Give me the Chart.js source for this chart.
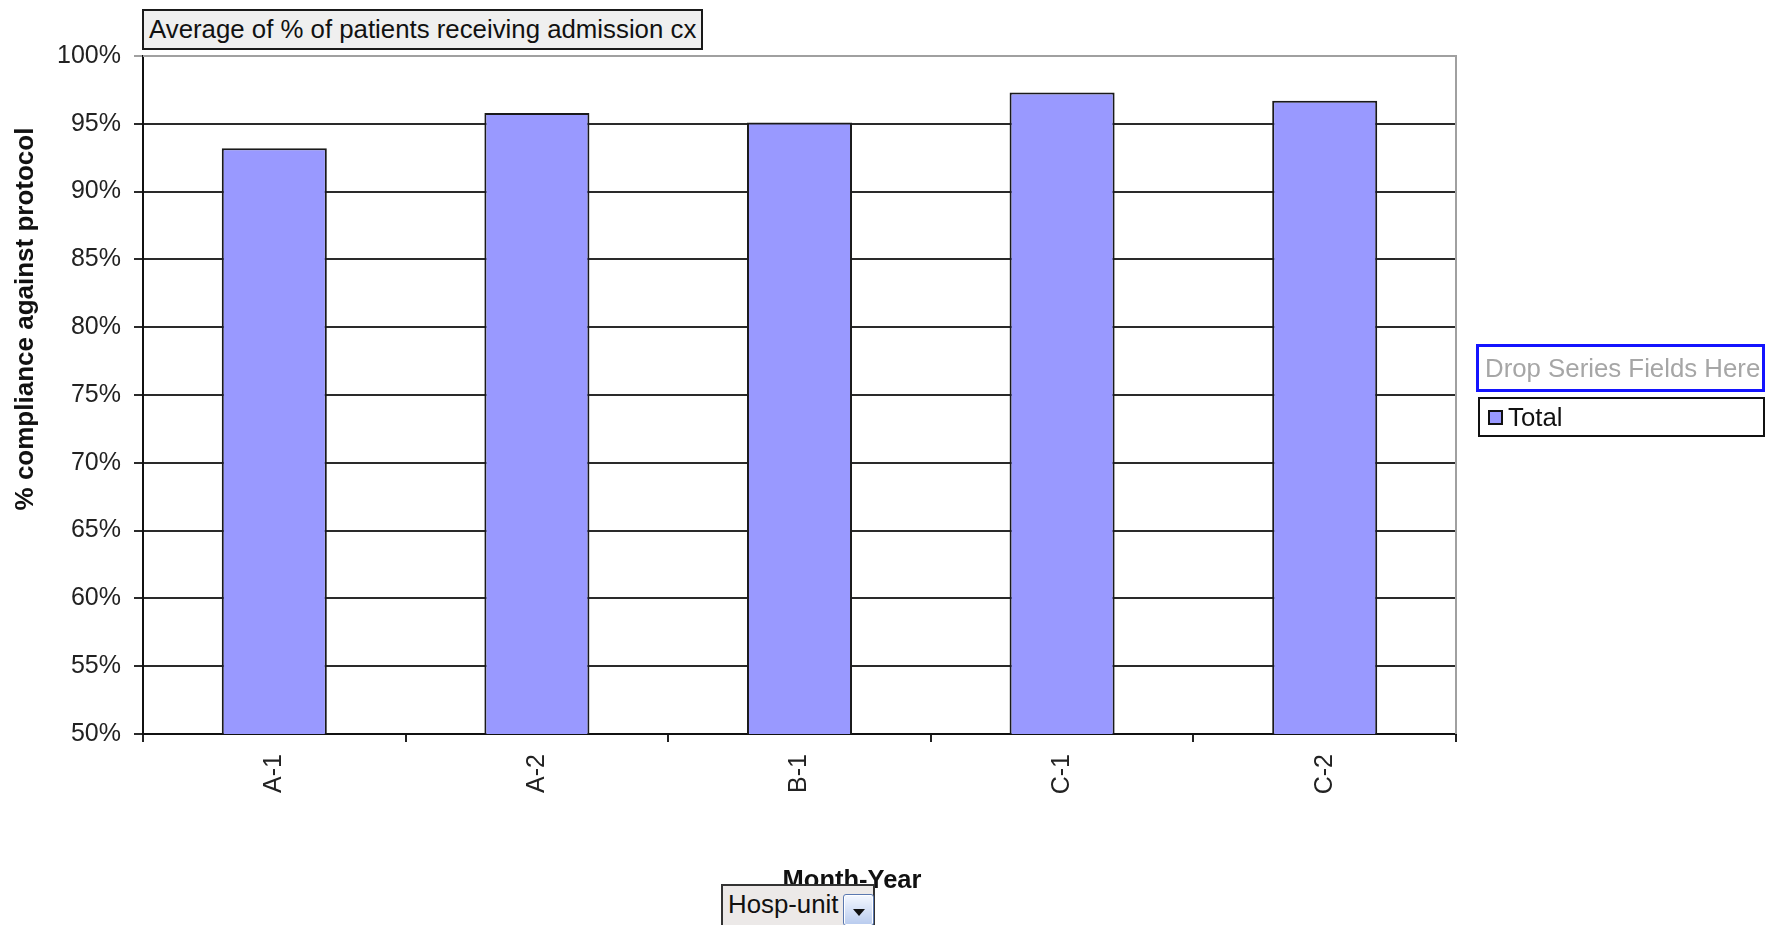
<!DOCTYPE html>
<html>
<head>
<meta charset="utf-8">
<title>Average of % of patients receiving admission cx</title>
<script src="https://cdn.jsdelivr.net/npm/chart.js@4.4.1/dist/chart.umd.min.js"></script>
<style>
  body { margin: 0; background: #fff; font-family: 'Liberation Sans', Arial, sans-serif; }
  #wrap { position: relative; width: 1777px; height: 925px; overflow: hidden; }
  #wrap canvas { position: absolute; left: 0; top: 0; }
  .box { position: absolute; box-sizing: border-box; white-space: nowrap; font-size: 25.8px; color: #111; }
  #dataField { left: 142px; top: 9px; width: 561px; height: 41px; background: #efefef; border: 2px solid #1a1a1a; padding-left: 5px; line-height: 36px; }
  #yTitle { left: -176px; top: 304px; width: 400px; height: 30px; line-height: 30px; text-align: center; font-weight: bold; font-size: 26px; transform: rotate(-90deg); }
  #xTitle { left: 702px; top: 864px; width: 300px; height: 30px; line-height: 30px; text-align: center; font-weight: bold; font-size: 25.5px; }
  #hospField { left: 721px; top: 884px; width: 154px; height: 50px; background: #ece9e8; border: 2px solid #333; padding-left: 5px; line-height: 36px; }
  #dropBtn { position: absolute; left: 120px; top: 8px; width: 31px; height: 32px; box-sizing: border-box; border: 1px solid #5a78b0; border-radius: 3px; background: linear-gradient(#f4f8ff, #b8cbee); box-shadow: inset 0 0 0 1px #fff; }
  #dropBtn::after { content: ''; position: absolute; left: 9px; top: 14px; border-left: 6px solid transparent; border-right: 6px solid transparent; border-top: 7px solid #111; }
  #seriesDrop { left: 1476px; top: 344px; width: 289px; height: 48px; border: 3px solid #1414ff; color: #a6a6a6; padding-left: 6px; line-height: 42px; }
  #legendTotal { left: 1478px; top: 397px; width: 287px; height: 40px; border: 2px solid #111; line-height: 36px; padding-left: 28px; }
  #legendTotal .swatch { position: absolute; left: 8px; top: 11px; width: 15px; height: 15px; box-sizing: border-box; background: #9999ff; border: 2px solid #111; }
</style>
</head>
<body>
<div id="wrap">
  <canvas id="chart" width="1777" height="925"></canvas>
  <div class="box" id="dataField">Average of % of patients receiving admission cx</div>
  <div class="box" id="yTitle">% compliance against protocol</div>
  <div class="box" id="xTitle">Month-Year</div>
  <div class="box" id="hospField">Hosp-unit<span id="dropBtn"></span></div>
  <div class="box" id="seriesDrop">Drop Series Fields Here</div>
  <div class="box" id="legendTotal"><span class="swatch"></span>Total</div>
</div>
<script>
// Data
const categories = ['A-1', 'A-2', 'B-1', 'C-1', 'C-2'];
const totalValues = [93.2, 95.8, 95.1, 97.3, 96.7];
const yMin = 50;
const yMax = 100;
const yStep = 5;

Chart.defaults.font.family = "'Liberation Sans', Arial, sans-serif";

// Grey frame on the top and right edges of the plot area
const plotFrame = {
    id: 'plotFrame',
    beforeDatasetsDraw(chart) {
        const { ctx, chartArea } = chart;
        ctx.save();
        ctx.strokeStyle = '#a0a0a0';
        ctx.lineWidth = 2;
        ctx.beginPath();
        ctx.moveTo(chartArea.left, chartArea.top);
        ctx.lineTo(chartArea.right, chartArea.top);
        ctx.lineTo(chartArea.right, chartArea.bottom);
        ctx.stroke();
        ctx.restore();
    }
};

const ctx = document.getElementById('chart').getContext('2d');

new Chart(ctx, {
    type: 'bar',
    data: {
        labels: categories,
        datasets: [{
            label: 'Total',
            data: totalValues,
            backgroundColor: '#9999ff',
            borderColor: '#1a1a1a',
            borderWidth: 2,
            barPercentage: 0.4,
            categoryPercentage: 1
        }]
    },
    options: {
        responsive: false,
        animation: false,
        layout: {
            padding: { top: 56, right: 321, bottom: 0, left: 0 }
        },
        plugins: {
            legend: { display: false },
            tooltip: { enabled: false }
        },
        scales: {
            x: {
                afterFit: scale => { scale.height = 191; },
                grid: {
                    offset: true,
                    drawOnChartArea: false,
                    drawTicks: true,
                    tickLength: 8,
                    color: '#222',
                    lineWidth: 2
                },
                border: { color: '#111', width: 2 },
                ticks: {
                    minRotation: 90,
                    maxRotation: 90,
                    padding: 12,
                    color: '#222',
                    font: { size: 25 }
                }
            },
            y: {
                min: yMin,
                max: yMax,
                afterFit: scale => { scale.width = 143; },
                grid: {
                    color: c => (c.tick && c.tick.value === yMax) ? '#a0a0a0' : '#2a2a2a',
                    lineWidth: 2,
                    tickLength: 9
                },
                border: { color: '#111', width: 2 },
                ticks: {
                    stepSize: yStep,
                    padding: 13,
                    color: '#222',
                    font: { size: 25 },
                    callback: v => v + '%'
                }
            }
        }
    },
    plugins: [plotFrame]
});
</script>
</body>
</html>
